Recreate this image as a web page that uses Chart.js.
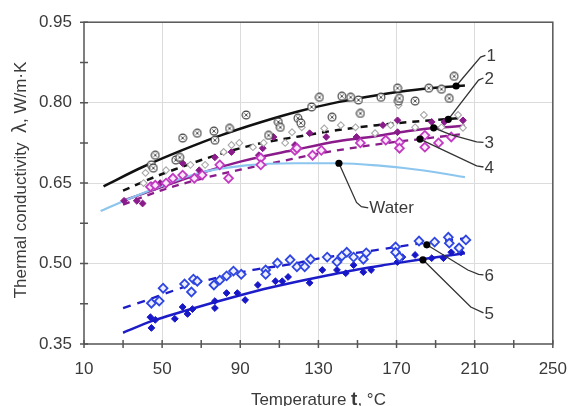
<!DOCTYPE html>
<html lang="en">
<head>
  <meta charset="UTF-8" />
  <title>Thermal conductivity</title>
  <style>
    html, body { margin: 0; padding: 0; background: #fff; }
    canvas { display: block; }
  </style>
</head>
<body>
  <canvas id="chart" width="582" height="406"></canvas>

  <script src="https://cdn.jsdelivr.net/npm/chart.js"></script>
  <script>
    // axis ticks
    const xTickValues = [10, 30, 50, 70, 90, 110, 130, 150, 170, 190, 210, 230, 250];
    const xLabelValues = [10, 50, 90, 130, 170, 210, 250];
    const xGridValues = [50, 90, 130, 170, 210];
    const yTickValues = [0.35, 0.425, 0.5, 0.575, 0.65, 0.725, 0.8, 0.875, 0.95];
    const yLabelValues = [0.35, 0.5, 0.65, 0.8, 0.95];
    const yGridValues = [0.5, 0.65, 0.8];

    // measured points [t, lambda]
    const points1 = [[44.5,0.684],[45.5,0.678],[46.5,0.702],[57,0.693],[59,0.698],[60.5,0.734],[68,0.743],[76.5,0.747],[77,0.730],
      [84.5,0.752],[93,0.777],[104.5,0.739],[109.5,0.764],[110.5,0.754],[119.5,0.771],[121,0.762],[126.5,0.792],[130.5,0.810],
      [137,0.773],[142,0.812],[146.5,0.810],[150.5,0.805],[151.5,0.780],[162,0.810],[170.5,0.827],[171,0.803],[171.5,0.808],
      [179.5,0.803],[186.5,0.827],[193,0.825],[197,0.808],[199.5,0.849]];
    const points2 = [[40.5,0.650],[41.5,0.669],[52,0.674],[64.5,0.684],[72,0.684],[81.5,0.708],[85.5,0.721],[89.5,0.725],[96.5,0.717],
      [102,0.725],[113,0.725],[116.5,0.745],[121.5,0.754],[133,0.752],[141.5,0.758],[149,0.754],[159,0.743],[167,0.758],
      [171,0.795],[179.5,0.754],[184,0.777],[193,0.754],[201.5,0.777],[204,0.753]];
    const points3 = [[30.5,0.617],[37,0.617],[40,0.612],[44.5,0.646],[49,0.650],[55,0.660],[60.5,0.687],[69,0.674],[77,0.698],
      [85.5,0.708],[99.5,0.702],[101.5,0.715],[107,0.736],[118,0.721],[125.5,0.743],[134,0.736],[149.5,0.736],[163,0.758],
      [170.5,0.767],[170.5,0.745],[188,0.764],[194.5,0.764],[204,0.767]];
    const points4 = [[44,0.643],[46.5,0.646],[52,0.650],[55.5,0.659],[60.5,0.665],[66.5,0.659],[70.5,0.665],[79.5,0.684],[84,0.659],
      [100.5,0.697],[100.5,0.684],[118,0.711],[119,0.715],[127,0.702],[131.5,0.711],[151.5,0.725],[164.5,0.730],[171.5,0.726],
      [171.5,0.715],[184.5,0.739],[184.5,0.717],[191.5,0.725],[198,0.736]];
    const points5 = [[44,0.400],[44.5,0.380],[46.5,0.395],[56.5,0.397],[60.5,0.419],[63,0.406],[65.5,0.415],[77,0.430],[77,0.417],
      [83,0.445],[88.5,0.445],[92.5,0.432],[99,0.460],[108,0.467],[111.5,0.467],[114.5,0.475],[125.5,0.464],[132,0.488],
      [139.5,0.488],[144,0.482],[148,0.497],[153,0.484],[157,0.488],[170.5,0.503],[173,0.512],[179.5,0.516],[188,0.510],
      [194,0.510],[198,0.521],[203,0.521]];
    const points6 = [[44.5,0.426],[48.5,0.430],[50.5,0.454],[61.5,0.462],[65,0.447],[66,0.471],[68,0.467],[76.5,0.460],[79.5,0.469],
      [83,0.477],[86.5,0.486],[90.5,0.480],[103,0.488],[103,0.480],[109,0.501],[115.5,0.507],[119,0.494],[123,0.494],[126,0.508],
      [134.5,0.512],[139.5,0.503],[142,0.514],[144.5,0.521],[148,0.512],[153,0.508],[154.5,0.520],[169.5,0.531],[169.5,0.521],
      [171.5,0.512],[181.5,0.542],[189.5,0.540],[196.5,0.549],[197,0.538],[202,0.529],[205.5,0.544]];

    // fitted curves [t, lambda]
    const curve1 = [[20,0.644],[40,0.680],[60,0.711],[80,0.739],[100,0.763],[120,0.784],[140,0.801],[160,0.814],[180,0.824],[205,0.832]];
    const curve2 = [[30,0.636],[40,0.652],[50,0.667],[60,0.680],[70,0.693],[85,0.710],[100,0.724],[120,0.737],[140,0.749],[160,0.758],[180,0.765],[202,0.771]];
    const curve3 = [[30,0.617],[50,0.643],[73,0.672],[90,0.690],[118,0.712],[140,0.728],[160,0.738],[178,0.748],[190,0.753],[205,0.757]];
    const curve4 = [[30,0.610],[50,0.637],[70,0.658],[90,0.675],[110,0.690],[130,0.705],[150,0.717],[170,0.727],[182,0.732],[205,0.742]];
    const curveWater = [[18.5,0.598],[30,0.616],[45,0.638],[68,0.668],[93,0.683],[118,0.687],[140,0.687],[160,0.683],[183,0.674],[205,0.661]];
    const curve5 = [[30,0.371],[45,0.393],[60,0.410],[75,0.426],[90,0.441],[105,0.455],[120,0.467],[135,0.478],[150,0.489],[165,0.498],[183,0.508],[205,0.519]];
    const curve6 = [[30,0.417],[40,0.429],[57,0.451],[70,0.466],[96.5,0.488],[118,0.500],[126.5,0.507],[159.5,0.525],[181.5,0.537],[205,0.547]];

    // leader lines: first point gets the dot, label sits after the last point
    const labelNames = ['1', '2', '3', '4', 'Water', '6', '5'];
    const labelPaths = [
      [[200.5,0.831],[213,0.885],[215.5,0.888]],
      [[196.5,0.769],[212,0.842],[214.5,0.846]],
      [[189,0.753],[198,0.740],[211,0.727],[214.5,0.726]],
      [[182,0.732],[211,0.682],[214.5,0.680]],
      [[140.5,0.687],[149.5,0.614],[152,0.606],[155.5,0.604]],
      [[185.5,0.535],[206.5,0.488],[212,0.480],[214.5,0.479]],
      [[183.5,0.507],[208,0.419],[214.5,0.408]]
    ];

    const FONT = '"Liberation Sans", Arial, sans-serif';
    const TEXT = '#3a3a3a';

    const toXY = arr => arr.map(p => ({ x: p[0], y: p[1] }));

    function crossCircle() {
      const c = document.createElement('canvas');
      c.width = 10; c.height = 10;
      const g = c.getContext('2d');
      g.fillStyle = '#fff';
      g.strokeStyle = '#3a3a3a';
      g.lineWidth = 1.1;
      g.beginPath(); g.arc(5, 5, 3.9, 0, Math.PI * 2); g.fill(); g.stroke();
      g.lineWidth = 0.9;
      g.beginPath();
      g.moveTo(3.3, 3.3); g.lineTo(6.7, 6.7);
      g.moveTo(6.7, 3.3); g.lineTo(3.3, 6.7);
      g.stroke();
      return c;
    }

    function curveSet(arr, color, width, dash) {
      return {
        data: toXY(arr), showLine: true, borderColor: color, borderWidth: width,
        borderDash: dash || [], pointRadius: 0, tension: 0.4, cubicInterpolationMode: 'monotone', fill: false
      };
    }
    function pointSet(arr, style, radius, fillCol, lineCol, lineW) {
      return {
        data: toXY(arr), showLine: false, pointStyle: style, pointRadius: radius,
        backgroundColor: fillCol, borderColor: lineCol, borderWidth: lineW
      };
    }

    const frame = {
      id: 'frame',
      afterDraw(chart) {
        const { ctx, chartArea: a, scales: { x, y } } = chart;
        ctx.save();
        ctx.strokeStyle = '#555';
        ctx.lineWidth = 1.5;
        ctx.strokeRect(a.left, a.top, a.right - a.left, a.bottom - a.top);
        ctx.beginPath();
        xTickValues.forEach(v => {
          const px = x.getPixelForValue(v);
          ctx.moveTo(px, a.bottom - 4); ctx.lineTo(px, a.bottom + 4);
        });
        yTickValues.forEach(v => {
          const py = y.getPixelForValue(v);
          ctx.moveTo(a.left - 4, py); ctx.lineTo(a.left + 4, py);
        });
        ctx.stroke();

        // leader lines and labels
        ctx.strokeStyle = '#333';
        ctx.lineWidth = 1.3;
        ctx.font = '17px ' + FONT;
        ctx.textBaseline = 'middle';
        labelPaths.forEach((path, i) => {
          const pts = path.map(p => [x.getPixelForValue(p[0]), y.getPixelForValue(p[1])]);
          ctx.beginPath();
          pts.forEach((p, k) => k ? ctx.lineTo(p[0], p[1]) : ctx.moveTo(p[0], p[1]));
          ctx.stroke();
          ctx.fillStyle = '#000';
          ctx.beginPath(); ctx.arc(pts[0][0], pts[0][1], 3.6, 0, Math.PI * 2); ctx.fill();
          const last = pts[pts.length - 1];
          ctx.fillStyle = TEXT;
          ctx.textAlign = 'left';
          ctx.fillText(labelNames[i], last[0] + 1, last[1] + 1);
        });

        // x title with bold t
        const parts = [['Temperature ', '17px '], ['t', 'bold 19px '], [', °C', '17px ']];
        let w = 0;
        parts.forEach(p => { ctx.font = p[1] + FONT; w += ctx.measureText(p[0]).width; });
        let cx = (a.left + a.right) / 2 - w / 2;
        ctx.textBaseline = 'alphabetic';
        parts.forEach(p => {
          ctx.font = p[1] + FONT;
          ctx.fillText(p[0], cx, 405);
          cx += ctx.measureText(p[0]).width;
        });

        // y title
        const yParts = [['Thermal conductivity  ', '17px '], ['λ', '20px '], [', W/m·K', '17px ']];
        let h = 0;
        yParts.forEach(p => { ctx.font = p[1] + FONT; h += ctx.measureText(p[0]).width; });
        ctx.translate(26, 180);
        ctx.rotate(-Math.PI / 2);
        let cy = -h / 2;
        yParts.forEach(p => {
          ctx.font = p[1] + FONT;
          ctx.fillText(p[0], cy, 0);
          cy += ctx.measureText(p[0]).width;
        });
        ctx.restore();
      }
    };

    const marker = crossCircle();

    new Chart(document.getElementById('chart').getContext('2d'), {
      type: 'scatter',
      data: {
        datasets: [
          pointSet(points1, marker, 5, '#fff', '#3a3a3a', 1),
          pointSet(points2, 'rectRot', 3.4, '#fff', '#a8a8a8', 1.1),
          pointSet(points4, 'rectRot', 4.4, '#fbe8fb', '#c23ac2', 1.8),
          pointSet(points3, 'rectRot', 3.4, '#8a1b8a', '#8a1b8a', 1),
          pointSet(points6, 'rectRot', 4.4, '#eef0ff', '#2f46e0', 1.8),
          pointSet(points5, 'rectRot', 3.4, '#1717c8', '#1717c8', 1),
          curveSet(curveWater, '#8cc6ee', 2.2),
          curveSet(curve1, '#111', 2.5),
          curveSet(curve2, '#111', 2.5, [7, 6]),
          curveSet(curve3, '#8a1b8a', 2.5),
          curveSet(curve4, '#8a1b8a', 2.3, [7, 6]),
          curveSet(curve5, '#1c1cc8', 2.5),
          curveSet(curve6, '#1c1cc8', 2.3, [8, 7])
        ]
      },
      options: {
        responsive: false,
        animation: false,
        devicePixelRatio: 1,
        layout: { padding: { top: 22, right: 18, left: 0, bottom: 0 } },
        plugins: { legend: { display: false }, tooltip: { enabled: false } },
        scales: {
          x: {
            type: 'linear', min: 10, max: 250,
            afterBuildTicks: s => { s.ticks = xTickValues.map(v => ({ value: v })); },
            afterFit: s => { s.height = 62; },
            border: { display: false },
            grid: {
              drawTicks: false,
              color: c => (c.tick && xGridValues.includes(c.tick.value)) ? '#dcdcdc' : 'rgba(0,0,0,0)'
            },
            ticks: {
              padding: 15, color: TEXT, font: { family: FONT, size: 17 }, maxRotation: 0, autoSkip: false,
              callback: v => xLabelValues.includes(v) ? String(v) : ''
            }
          },
          y: {
            min: 0.35, max: 0.95,
            afterBuildTicks: s => { s.ticks = yTickValues.map(v => ({ value: v })); },
            afterFit: s => { s.width = 84; },
            border: { display: false },
            grid: {
              drawTicks: false,
              color: c => (c.tick && yGridValues.includes(c.tick.value)) ? '#dcdcdc' : 'rgba(0,0,0,0)'
            },
            ticks: {
              padding: 12, color: TEXT, font: { family: FONT, size: 17 }, autoSkip: false,
              callback: v => yLabelValues.includes(v) ? v.toFixed(2) : ''
            }
          }
        }
      },
      plugins: [frame]
    });
  </script>
</body>
</html>
